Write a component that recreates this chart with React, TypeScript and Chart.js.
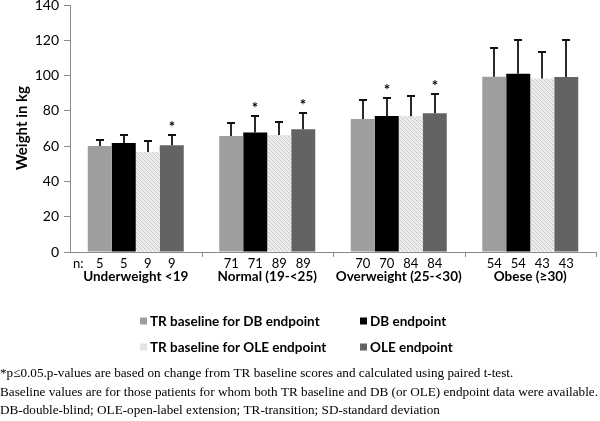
import React, { useEffect, useRef } from 'react';
import { Chart, registerables } from 'chart.js';

Chart.register(...registerables);

const categories = ['Underweight <19', 'Normal (19-<25)', 'Overweight (25-<30)', 'Obese (≥30)'];
const seriesLabels = ['TR baseline for DB endpoint', 'DB endpoint', 'TR baseline for OLE endpoint', 'OLE endpoint'];

const trDbMean = [60.1, 65.8, 75.4, 99.4];
const dbMean = [61.8, 67.8, 77.1, 101.1];
const trOleMean = [56.7, 66.3, 76.9, 98.4];
const oleMean = [60.5, 69.6, 78.6, 99.2];

const trDbSd = [3.4, 7.5, 10.8, 16.1];
const dbSd = [4.5, 9.3, 10.0, 18.9];
const trOleSd = [6.3, 7.6, 11.7, 14.8];
const oleSd = [5.8, 9.4, 11.2, 21.2];

const trDbN = [5, 71, 70, 54];
const dbN = [5, 71, 70, 54];
const trOleN = [9, 89, 84, 43];
const oleN = [9, 89, 84, 43];

const trDbSig = [false, false, false, false];
const dbSig = [false, true, true, false];
const trOleSig = [false, false, false, false];
const oleSig = [true, true, true, false];

const yMin = 0;
const yMax = 140;
const yStep = 20;
const yTitle = 'Weight in kg';

const footnotes = [
  '*p≤0.05.p-values are based on change from TR baseline scores and calculated using paired t-test.',
  'Baseline values are for those patients for whom both TR baseline and DB (or OLE) endpoint data were available.',
  'DB-double-blind; OLE-open-label extension; TR-transition; SD-standard deviation',
];

const SANS = 'Lato, "Open Sans", sans-serif';
const SERIF = '"Liberation Serif", "Times New Roman", serif';

function makePattern(): CanvasPattern | string {
  const c = document.createElement('canvas');
  c.width = 4;
  c.height = 4;
  const x = c.getContext('2d');
  if (!x) return '#e0e0e0';
  x.fillStyle = '#ececec';
  x.fillRect(0, 0, 4, 4);
  x.fillStyle = '#c2c2c2';
  x.fillRect(0, 0, 1, 1);
  x.fillRect(2, 2, 1, 1);
  x.fillStyle = '#d6d6d6';
  x.fillRect(1, 1, 1, 1);
  x.fillRect(3, 3, 1, 1);
  const p = x.createPattern(c, 'repeat');
  return p || '#e0e0e0';
}

export default function App() {
  const ref = useRef<HTMLCanvasElement | null>(null);

  useEffect(() => {
    const canvas = ref.current;
    if (!canvas) return;
    const pattern = makePattern();
    const colors = ['#9e9e9e', '#000000', pattern, '#636363'];
    const legendColors = ['#9e9e9e', '#000000', '#e4e4e4', '#636363'];
    const means = [trDbMean, dbMean, trOleMean, oleMean];
    const sds = [trDbSd, dbSd, trOleSd, oleSd];
    const ns = [trDbN, dbN, trOleN, oleN];
    const sigs = [trDbSig, dbSig, trOleSig, oleSig];

    const overlay = {
      id: 'overlay',
      afterDatasetsDraw(chart: any) {
        const ctx = chart.ctx as CanvasRenderingContext2D;
        const y = chart.scales.y;
        ctx.save();
        for (let d = 0; d < means.length; d++) {
          const meta = chart.getDatasetMeta(d);
          meta.data.forEach((bar: any, i: number) => {
            const x = Math.round(bar.x);
            const yb = y.getPixelForValue(means[d][i]);
            const yt = Math.round(y.getPixelForValue(means[d][i] + sds[d][i]));
            ctx.strokeStyle = '#2a2a2a';
            ctx.lineWidth = 2;
            ctx.beginPath();
            ctx.moveTo(x, yb);
            ctx.lineTo(x, yt);
            ctx.stroke();
            ctx.strokeStyle = '#111';
            ctx.beginPath();
            ctx.moveTo(x - 4, yt);
            ctx.lineTo(x + 4, yt);
            ctx.stroke();
            if (sigs[d][i]) {
              ctx.fillStyle = '#000';
              ctx.font = `bold 15px ${SANS}`;
              ctx.textAlign = 'center';
              ctx.textBaseline = 'middle';
              ctx.fillText('*', x, yt - 8);
            }
          });
        }
        ctx.restore();
      },
      afterDraw(chart: any) {
        const ctx = chart.ctx as CanvasRenderingContext2D;
        const area = chart.chartArea;
        const xs = chart.scales.x;
        ctx.save();
        // category tick marks
        ctx.strokeStyle = '#8a8a8a';
        ctx.lineWidth = 1;
        const cw = (area.right - area.left) / categories.length;
        for (let i = 1; i <= categories.length; i++) {
          const bx = Math.round(area.left + cw * i) + 0.5;
          ctx.beginPath();
          ctx.moveTo(bx, area.bottom);
          ctx.lineTo(bx, area.bottom + 5);
          ctx.stroke();
        }
        // n labels
        ctx.fillStyle = '#000';
        ctx.font = `13px ${SANS}`;
        ctx.textBaseline = 'middle';
        const nY = area.bottom + 12;
        ctx.textAlign = 'left';
        ctx.fillText('n:', area.left + 3, nY);
        ctx.textAlign = 'center';
        for (let d = 0; d < ns.length; d++) {
          const meta = chart.getDatasetMeta(d);
          meta.data.forEach((bar: any, i: number) => {
            ctx.fillText(String(ns[d][i]), bar.x, nY);
          });
        }
        // category labels
        ctx.font = `bold 13.5px ${SANS}`;
        categories.forEach((c, i) => {
          ctx.fillText(c, xs.getPixelForValue(i), area.bottom + 25);
        });
        // y title
        ctx.save();
        ctx.translate(22, 128);
        ctx.rotate(-Math.PI / 2);
        ctx.font = `bold 15px ${SANS}`;
        ctx.fillText(yTitle, 0, 0);
        ctx.restore();
        // legend
        const legendPos = [
          [140, 321],
          [360, 321],
          [140, 347],
          [360, 347],
        ];
        ctx.font = `bold 13.5px ${SANS}`;
        ctx.textAlign = 'left';
        seriesLabels.forEach((lab, i) => {
          const [lx, ly] = legendPos[i];
          ctx.fillStyle = legendColors[i];
          ctx.fillRect(lx, ly - 3.5, 7, 7);
          ctx.fillStyle = '#000';
          ctx.fillText(lab, lx + 10, ly + 0.5);
        });
        // footnotes
        ctx.font = `13.2px ${SERIF}`;
        ctx.fillStyle = '#000';
        ctx.textBaseline = 'alphabetic';
        footnotes.forEach((f, i) => {
          ctx.fillText(f, 0, 377 + i * 18.5);
        });
        ctx.restore();
      },
    };

    const chart = new Chart(canvas, {
      type: 'bar',
      data: {
        labels: categories,
        datasets: seriesLabels.map((lab, i) => ({
          label: lab,
          data: means[i],
          backgroundColor: colors[i] as any,
          borderWidth: 0,
          categoryPercentage: 0.73,
          barPercentage: 1.0,
        })),
      },
      options: {
        responsive: false,
        animation: false,
        devicePixelRatio: 1,
        layout: { padding: { top: 5, right: 4, left: 0, bottom: 0 } },
        plugins: {
          legend: { display: false },
          tooltip: { enabled: false },
        },
        scales: {
          x: {
            grid: { display: false },
            border: { display: true, color: '#8a8a8a', width: 1 },
            ticks: { display: false },
            afterFit(scale: any) {
              scale.height = 169;
              scale.paddingLeft = 0;
              scale.paddingRight = 0;
            },
          },
          y: {
            min: yMin,
            max: yMax,
            ticks: {
              stepSize: yStep,
              color: '#000',
              font: { family: SANS, size: 14 },
              padding: 5,
            },
            grid: {
              display: true,
              drawOnChartArea: false,
              drawTicks: true,
              tickLength: 6,
              color: '#8a8a8a',
            },
            border: { display: true, color: '#8a8a8a', width: 1 },
            afterFit(scale: any) {
              scale.width = 70;
              scale.paddingTop = 0;
              scale.paddingBottom = 0;
            },
          },
        },
      },
      plugins: [overlay],
    });
    return () => chart.destroy();
  }, []);

  return (
    <div style={{ position: 'absolute', left: 0, top: 0, width: 600, height: 421, background: '#fff' }}>
      <canvas ref={ref} width={600} height={421} style={{ width: 600, height: 421, display: 'block' }} />
    </div>
  );
}
